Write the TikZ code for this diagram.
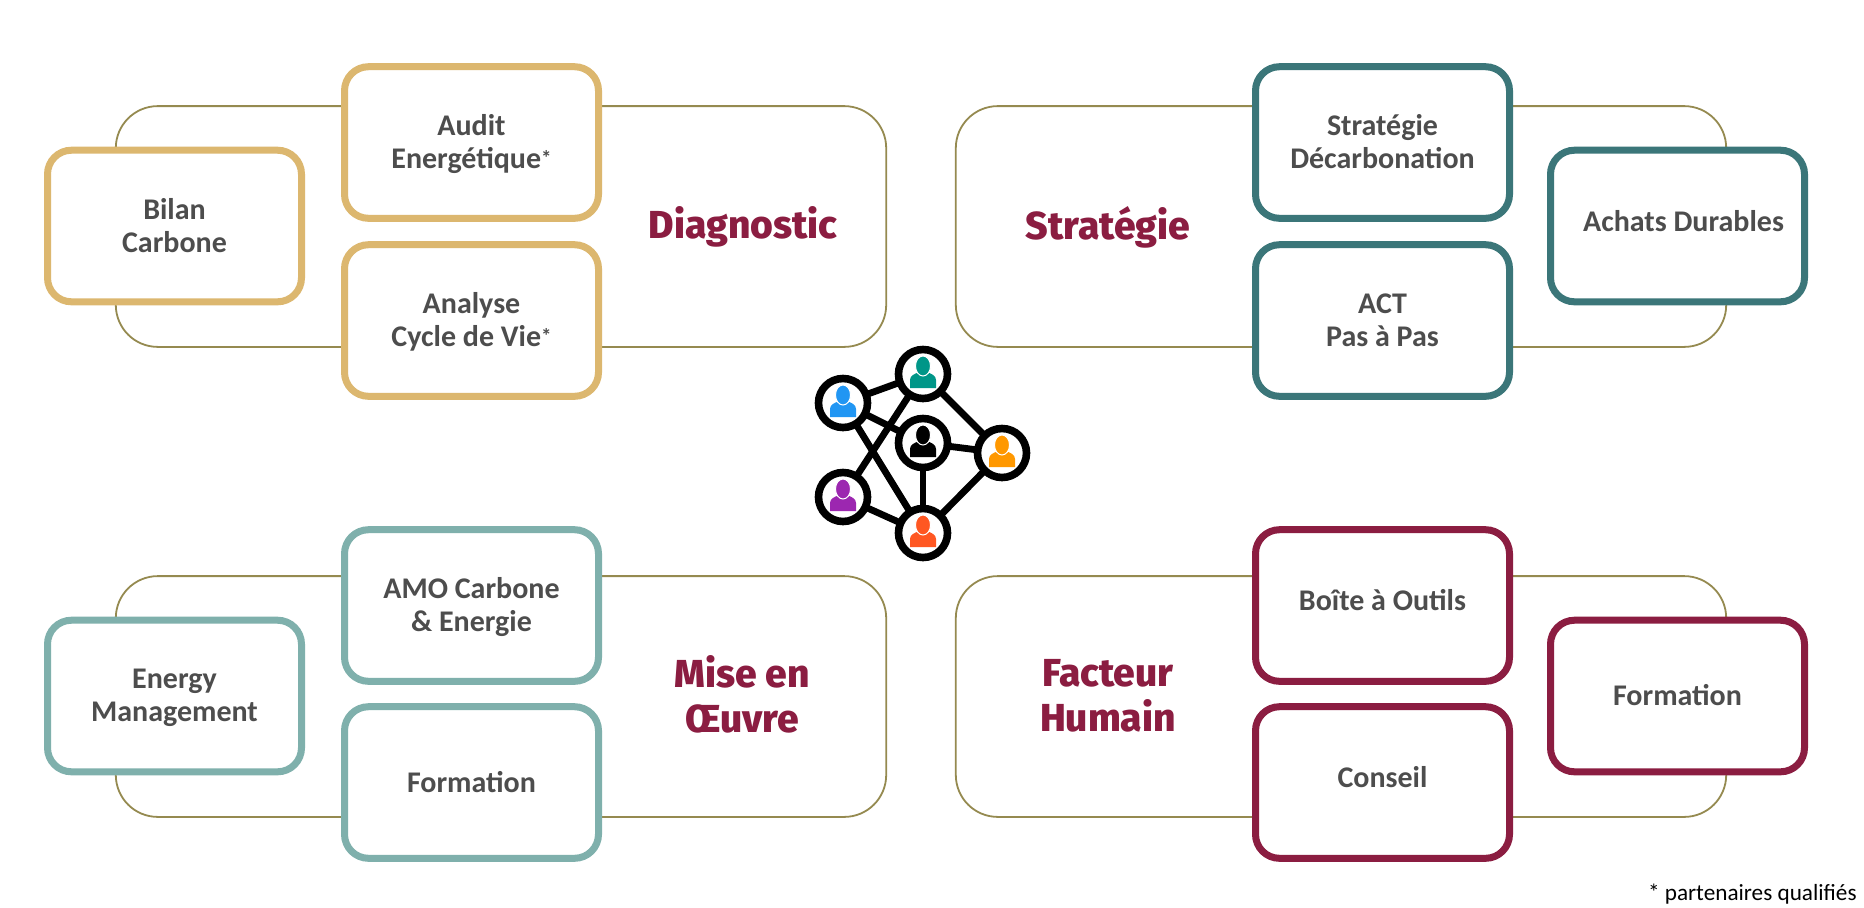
\documentclass[tikz,border=0pt]{standalone}
\usepackage{fontspec}
\setmainfont{Carlito}
\newfontfamily\titlefont{Fira Sans ExtraBold}
\newfontfamily\notefont{Carlito}
\usetikzlibrary{positioning}
\definecolor{gold}{HTML}{DCB76F}
\definecolor{petrol}{HTML}{3B7679}
\definecolor{seafoam}{HTML}{7FB0AC}
\definecolor{crimson}{HTML}{8B1D41}
\definecolor{olive}{HTML}{958A50}
\definecolor{bodygrey}{HTML}{4D4D4D}
\definecolor{iconblue}{HTML}{2196F3}
\definecolor{iconteal}{HTML}{009688}
\definecolor{iconorange}{HTML}{FF9800}
\definecolor{iconpurple}{HTML}{9C27B0}
\definecolor{iconred}{HTML}{FF5722}
\tikzset{
  panel/.style={draw=olive, line width=0.9pt, fill=white, rounded corners=21pt, minimum width=385.2pt, minimum height=120.4pt, inner sep=0pt, outer sep=0pt},
  item/.style={draw=#1, line width=3.5pt, fill=white, rounded corners=12pt, minimum width=127pt, minimum height=75.8pt, inner sep=0pt, outer sep=0pt, align=center, text=bodygrey, text depth=0.6pt, font=\fontsize{15}{16.5}\selectfont\bfseries},
  lift/.style={text height=10pt, text depth=#1},
  heading/.style={align=center, text=crimson, inner sep=0pt, font=\fontsize{19.5}{22.5}\titlefont},
  member/.style={circle, draw=black, line width=3.8pt, fill=white, minimum size=24.5pt, inner sep=0pt, outer sep=0pt},
  link/.style={draw=black, line width=3.4pt}
}
\newcommand{\personicon}[2]{
  \fill[#1, shift={(#2)}] (-13,14) -- (-13,6) .. controls (-13,1) and (-8,0) .. (-4,-2) -- (4,-2) .. controls (8,0) and (13,1) .. (13,6) -- (13,14) -- cycle;
  \filldraw[#1, draw=white, line width=0.5pt, shift={(#2)}] (0,-8) ellipse [x radius=7.5, y radius=10];
}
\newcommand{\smallstar}{{\fontsize{10.5}{10.5}\selectfont\raisebox{1.5pt}{*}}}

\begin{document}
\begin{tikzpicture}[x=0.5pt,y=-0.5pt]
      \useasboundingbox (0,0) rectangle (1864,907);

      \node[panel] (diagnosticpanel) at (501,226.5) {};
      \node[panel] (strategiepanel) at (1341,226.5) {};
      \node[panel] (oeuvrepanel) at (501,696.5) {};
      \node[panel] (humainpanel) at (1341,696.5) {};

      \node[item=gold] (bilan) at (174.5,226) {Bilan\\Carbone};
      \node[item=gold] (audit) at (471.5,142.5) {Audit\\Energétique\smallstar};
      \node[item=gold] (analyse) at (471.5,320.5) {Analyse\\Cycle de Vie\smallstar};

      \node[item=petrol] (decarbonation) at (1382.5,142.5) {Stratégie\\Décarbonation};
      \node[item=petrol] (act) at (1382.5,320.5) {ACT\\Pas à Pas};
      \node[item=petrol, lift=5pt] (achats) at (1677.5,226) {\hspace*{6pt}Achats Durables};

      \node[item=seafoam] (energy) at (174.5,696) {Energy\\Management};
      \node[item=seafoam] (amo) at (471.5,605.5) {AMO Carbone\\\& Energie};
      \node[item=seafoam] (formationmeo) at (471.5,782.5) {Formation};

      \node[item=crimson, lift=5pt] (boite) at (1382.5,605.5) {Boîte à Outils};
      \node[item=crimson, lift=5pt] (conseil) at (1382.5,782.5) {Conseil};
      \node[item=crimson] (formationfh) at (1677.5,696) {Formation};

      \node[heading] (diagnostic) at (743,227) {Diagnostic};
      \node[heading] (strategie) at (1108,227) {Stratégie};
      \node[heading] (oeuvre) at (742,694) {Mise en\\Œuvre};
      \node[heading] (humain) at (1108,696) {Facteur\\Humain};

      \node[member] (netblue) at (843,403) {};
      \node[member] (netgreen) at (923,374) {};
      \node[member] (netblack) at (923,443) {};
      \node[member] (netorange) at (1002,453) {};
      \node[member] (netpurple) at (843,497) {};
      \node[member] (netred) at (923,533) {};

      \draw[link] (netblue) -- (netgreen);
      \draw[link] (netblue) -- (netblack);
      \draw[link] (netblue) -- (netred);
      \draw[link] (netgreen) -- (netpurple);
      \draw[link] (netgreen) -- (netorange);
      \draw[link] (netblack) -- (netorange);
      \draw[link] (netblack) -- (netred);
      \draw[link] (netpurple) -- (netred);
      \draw[link] (netorange) -- (netred);

      \personicon{iconblue}{netblue}
      \personicon{iconteal}{netgreen}
      \personicon{black}{netblack}
      \personicon{iconorange}{netorange}
      \personicon{iconpurple}{netpurple}
      \personicon{iconred}{netred}

      \node[anchor=east, inner sep=0pt, font=\fontsize{11.6}{14}\notefont] (footnote) at (1857,894) {* partenaires qualifiés};
\end{tikzpicture}
\end{document}
